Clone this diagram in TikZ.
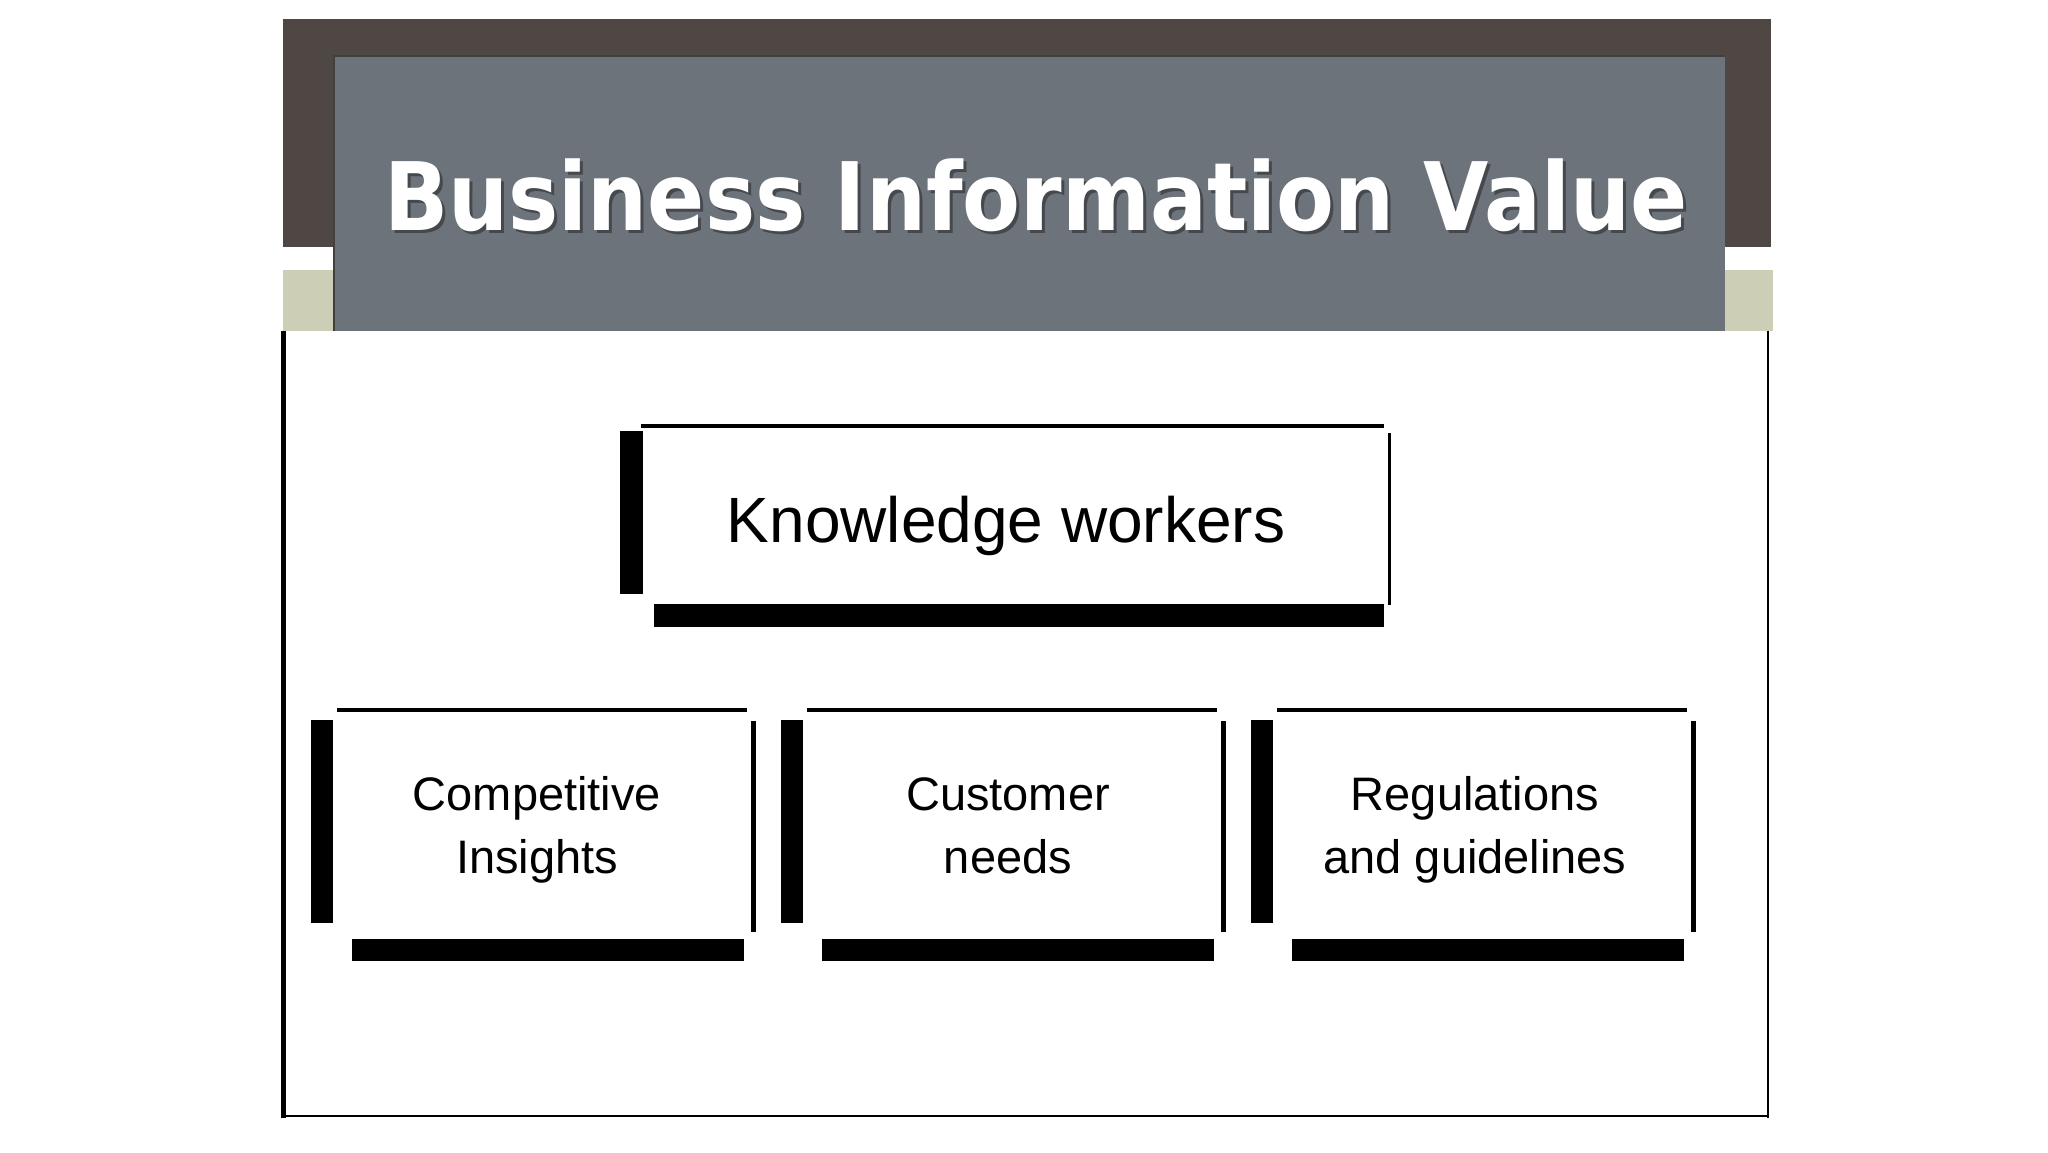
\documentclass[tikz,border=0pt]{standalone}
\usepackage{fontspec}
\usepackage{graphicx}
\setmainfont{Liberation Sans}
\newfontfamily\titlefont{DejaVu Sans}
\definecolor{banddark}{HTML}{4F4743}
\definecolor{titlegray}{HTML}{6D737B}
\definecolor{khaki}{HTML}{CDCEB6}
\definecolor{shadowgray}{HTML}{3E4146}
\tikzset{
  bar/.style={fill=black, draw=none},
  boxtext/.style={anchor=base, align=center, inner sep=0pt, text=black,
    font=\fontsize{23.5pt}{31.5pt}\selectfont},
  bigtext/.style={anchor=base, inner sep=0pt, text=black,
    font=\fontsize{32pt}{38pt}\selectfont},
  titletext/.style={anchor=base, inner sep=0pt,
    font=\titlefont\bfseries\fontsize{48.7pt}{50pt}\selectfont}
}
\begin{document}
\begin{tikzpicture}[x=0.5pt,y=-0.5pt]
\useasboundingbox (0,0) rectangle (2048,1152);
\fill[white] (0,0) rectangle (2048,1152);
% header
\fill[banddark] (283,19) rectangle (1771,247);
\fill[khaki] (283,270) rectangle (1773,331);
\fill[titlegray] (333,55) rectangle (1725,331);
\draw[line width=1pt, color=black!75] (334,331) -- (334,56) -- (1725,56);
\node[titletext, text=shadowgray, opacity=0.85] (titleshadow) at (1039,233)
  {\scalebox{0.866}[0.97]{Business Information Value}};
\node[titletext, text=white] (title) at (1036,230)
  {\scalebox{0.866}[0.97]{Business Information Value}};
% frame
\fill[black] (281,331) rectangle (286,1118);
\fill[black] (1766.5,331) rectangle (1768.5,1118);
\fill[black] (283,1115) rectangle (1768.5,1117);
% top box
\fill[bar] (641,424) rectangle (1384,428);
\fill[bar] (620,431) rectangle (643,594);
\fill[bar] (1388,433) rectangle (1391,605);
\fill[bar] (654,604) rectangle (1384,627);
\node[bigtext] (kw) at (1006,542) {Knowledge workers};
% bottom boxes
\foreach \dx in {0,470,940} {
  \fill[bar] (337+\dx,708) rectangle (747+\dx,712);
  \fill[bar] (311+\dx,720) rectangle (333+\dx,923);
  \fill[bar] (751+\dx,721) rectangle (756+\dx,932);
  \fill[bar] (352+\dx,939) rectangle (744+\dx,961);
}
\node[boxtext] (ci) at (537,873) {Competitive\\Insights};
\node[boxtext] (cn) at (1008,873) {Customer\\needs};
\node[boxtext] (rg) at (1475,873) {Regulations\\and guidelines};
\end{tikzpicture}
\end{document}
